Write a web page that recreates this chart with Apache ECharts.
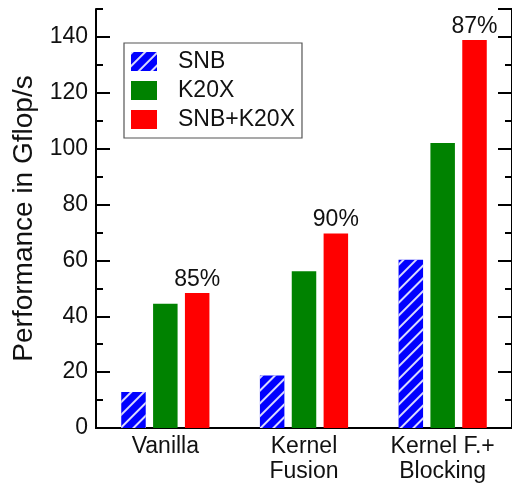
<!DOCTYPE html>
<html><head><meta charset="utf-8">
<script src="https://cdn.jsdelivr.net/npm/echarts@6/dist/echarts.min.js"></script>
<style>html,body{margin:0;padding:0;background:#fff}#c{width:512px;height:484px}</style>
</head><body><div id="c"></div>
<script>
const categories = ['Vanilla', 'Kernel\nFusion', 'Kernel F.+\nBlocking'];
const seriesNames = ['SNB', 'K20X', 'SNB+K20X'];
const snb = [12.9, 18.8, 60.2];
const k20x = [44.5, 56.1, 102.0];
const combined = [48.3, 69.6, 138.9];
const efficiency = ['85%', '90%', '87%'];

const FONT = 'Liberation Sans, Arial, sans-serif';
const TXT = '#111';
const lineStyle = { color: '#000', width: 2 };

function yAx(pos, interval, tickLen, showLabel, showLine) {
  return {
    type: 'value', position: pos, min: 0, max: 150, interval: interval,
    axisLine: { show: showLine, lineStyle: lineStyle },
    axisTick: { show: true, inside: true, length: tickLen, lineStyle: { color: '#000', width: 2 } },
    axisLabel: { show: showLabel, margin: 8, fontSize: 23, color: TXT, fontFamily: FONT, showMaxLabel: false },
    splitLine: { show: false }
  };
}

const chart = echarts.init(document.getElementById('c'), null, { renderer: 'canvas' });
const yAxes = [
  yAx('left', 20, 14, true, true),
  yAx('left', 10, 7, false, false),
  yAx('right', 20, 14, false, true),
  yAx('right', 10, 7, false, false)
];
yAxes[0].name = 'Performance in Gflop/s';
yAxes[0].nameLocation = 'middle';
yAxes[0].nameGap = 56;
yAxes[0].nameTextStyle = { fontSize: 28, color: TXT, fontFamily: FONT };

chart.setOption({
  animation: false,
  backgroundColor: '#fff',
  textStyle: { fontFamily: FONT },
  grid: { left: 96, right: -4, top: 9, bottom: 55, containLabel: false },
  legend: {
    orient: 'vertical', left: 124, top: 43,
    data: seriesNames,
    icon: 'rect',
    itemWidth: 26, itemHeight: 19, itemGap: 6,
    padding: [7, 7, 7, 7],
    borderColor: '#555', borderWidth: 1.2,
    textStyle: { fontSize: 23, color: TXT, fontFamily: FONT, lineHeight: 19, padding: [0, 0, 0, 16] }
  },
  xAxis: [
    {
      type: 'category', data: categories, position: 'bottom',
      axisLine: { lineStyle: lineStyle },
      axisTick: { show: false },
      axisLabel: { margin: 6, fontSize: 23, lineHeight: 25, color: TXT, fontFamily: FONT, interval: 0 }
    },
    {
      type: 'category', data: categories, position: 'top',
      axisLine: { lineStyle: lineStyle },
      axisTick: { show: false }, axisLabel: { show: false }
    }
  ],
  yAxis: yAxes,
  series: [
    {
      name: seriesNames[0], type: 'bar', data: snb, barWidth: 24.5, barGap: '30%',
      itemStyle: {
        color: '#0000ff',
        decal: { symbol: 'rect', color: 'rgba(255,255,255,0.85)', dashArrayX: [[1, 0]], dashArrayY: [1.2, 7], rotation: -Math.PI / 4, symbolSize: 1 }
      }
    },
    {
      name: seriesNames[1], type: 'bar', data: k20x, barWidth: 24.5, barGap: '30%',
      itemStyle: { color: '#008200' }
    },
    {
      name: seriesNames[2], type: 'bar', data: combined, barWidth: 24.5, barGap: '30%',
      itemStyle: { color: '#ff0000' },
      label: {
        show: true, position: 'top', distance: 2, fontSize: 23, color: TXT, fontFamily: FONT,
        formatter: function (p) { return efficiency[p.dataIndex]; }
      }
    }
  ]
});
</script></body></html>
